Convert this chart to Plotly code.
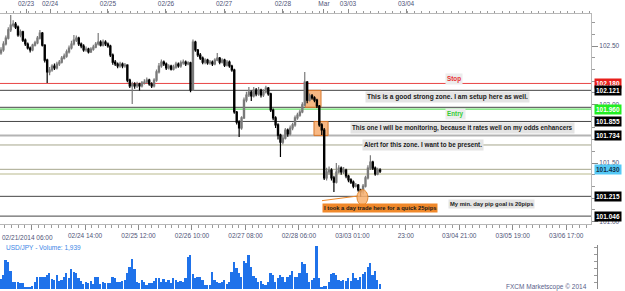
import plotly.graph_objects as go

# ---------------- data (hourly USD/JPY candles) ----------------
opens = [102.440,102.466,102.517,102.568,102.637,102.679,102.688,102.662,102.594,102.620,
         102.551,102.517,102.483,102.466,102.508,102.526,102.568,102.611,102.508,102.380,
         102.278,102.295,102.329,102.312,102.346,102.363,102.397,102.414,102.449,102.483,
         102.517,102.551,102.568,102.517,102.500,102.466,102.474,102.449,102.474,102.491,
         102.517,102.534,102.508,102.534,102.517,102.500,102.423,102.363,102.346,102.329,
         102.346,102.329,102.337,102.209,102.158,102.175,102.158,102.175,102.158,102.184,
         102.192,102.209,102.175,102.158,102.209,102.278,102.329,102.363,102.346,102.312,
         102.329,102.303,102.320,102.346,102.329,102.355,102.363,102.346,102.355,102.124,
         102.534,102.466,102.423,102.397,102.363,102.380,102.355,102.363,102.346,102.380,
         102.397,102.363,102.380,102.337,102.363,102.329,102.295,101.936,101.850,101.799,
         101.885,102.038,102.081,102.107,102.073,102.124,102.090,102.124,102.081,102.107,
         102.141,102.090,101.953,101.885,101.825,101.739,101.679,101.713,101.782,101.748,
         101.799,101.825,101.885,101.910,101.936,101.996,102.192,102.038,102.073,102.056,
         102.038,101.987,101.825,101.782,101.372,101.423,101.440,101.372,101.337,101.423,
         101.457,101.423,101.440,101.389,101.355,101.337,101.303,101.312,101.269,101.252,
         101.303,101.372,101.457,101.508,101.457,101.406,101.440]
highs = [102.490,102.540,102.590,102.660,102.765,102.720,102.705,102.675,102.640,102.630,
         102.565,102.530,102.495,102.520,102.545,102.585,102.637,102.620,102.515,102.390,
         102.320,102.345,102.350,102.365,102.380,102.415,102.435,102.470,102.505,102.545,
         102.594,102.590,102.580,102.530,102.515,102.495,102.485,102.490,102.510,102.535,
         102.611,102.550,102.555,102.550,102.530,102.510,102.435,102.380,102.360,102.365,
         102.360,102.355,102.345,102.220,102.195,102.190,102.195,102.185,102.200,102.215,
         102.230,102.220,102.190,102.225,102.300,102.355,102.385,102.375,102.360,102.345,
         102.340,102.340,102.365,102.360,102.375,102.385,102.375,102.370,102.365,102.555,
         102.545,102.475,102.440,102.410,102.395,102.390,102.380,102.375,102.395,102.440,
         102.405,102.395,102.390,102.380,102.375,102.340,102.305,101.945,101.865,101.900,
         102.060,102.110,102.150,102.120,102.150,102.140,102.150,102.135,102.130,102.160,
         102.150,102.100,101.965,101.900,101.840,101.750,101.735,101.800,101.795,101.820,
         101.845,101.905,101.930,101.955,102.020,102.278,102.200,102.095,102.090,102.070,
         102.050,101.995,101.840,101.800,101.460,101.470,101.455,101.390,101.500,101.480,
         101.470,101.465,101.450,101.400,101.370,101.350,101.330,101.320,101.280,101.320,
         101.390,101.480,101.567,101.520,101.470,101.460,101.455]
lows = [102.425,102.450,102.505,102.555,102.620,102.660,102.645,102.580,102.575,102.535,
        102.500,102.470,102.445,102.455,102.495,102.515,102.555,102.495,102.360,102.184,
        102.250,102.280,102.295,102.300,102.330,102.350,102.385,102.400,102.435,102.470,
        102.505,102.535,102.500,102.480,102.450,102.450,102.435,102.440,102.460,102.480,
        102.505,102.495,102.495,102.500,102.485,102.405,102.340,102.330,102.310,102.315,
        102.310,102.315,102.190,102.140,102.004,102.135,102.140,102.120,102.145,102.170,
        102.180,102.160,102.140,102.145,102.195,102.265,102.315,102.330,102.295,102.300,
        102.290,102.290,102.305,102.315,102.315,102.340,102.330,102.335,102.105,102.115,
        102.450,102.405,102.380,102.345,102.345,102.340,102.340,102.330,102.335,102.370,
        102.345,102.350,102.320,102.325,102.315,102.280,101.920,101.830,101.722,101.785,
        101.875,102.020,102.065,102.030,102.060,102.070,102.075,102.060,102.065,102.095,
        102.075,101.935,101.865,101.800,101.700,101.551,101.660,101.700,101.725,101.735,
        101.780,101.810,101.870,101.895,101.925,101.985,102.010,102.025,102.040,102.020,
        101.970,101.810,101.740,101.355,101.350,101.400,101.350,101.252,101.325,101.410,
        101.400,101.405,101.370,101.335,101.320,101.285,101.290,101.255,101.209,101.230,
        101.290,101.360,101.440,101.440,101.390,101.395,101.415]
closes = [102.466,102.517,102.568,102.637,102.679,102.688,102.662,102.594,102.620,102.551,
          102.517,102.483,102.466,102.508,102.526,102.568,102.611,102.508,102.380,102.278,
          102.295,102.329,102.312,102.346,102.363,102.397,102.414,102.449,102.483,102.517,
          102.551,102.568,102.517,102.500,102.466,102.474,102.449,102.474,102.491,102.517,
          102.534,102.508,102.534,102.517,102.500,102.423,102.363,102.346,102.329,102.346,
          102.329,102.337,102.209,102.158,102.175,102.158,102.175,102.158,102.184,102.192,
          102.209,102.175,102.158,102.209,102.278,102.329,102.363,102.346,102.312,102.329,
          102.303,102.320,102.346,102.329,102.355,102.363,102.346,102.355,102.124,102.534,
          102.466,102.423,102.397,102.363,102.380,102.355,102.363,102.346,102.380,102.397,
          102.363,102.380,102.337,102.363,102.329,102.295,101.936,101.850,101.799,101.885,
          102.038,102.081,102.107,102.073,102.124,102.090,102.124,102.081,102.107,102.141,
          102.090,101.953,101.885,101.825,101.739,101.679,101.713,101.782,101.748,101.799,
          101.825,101.885,101.910,101.936,101.996,102.192,102.038,102.073,102.056,102.038,
          101.987,101.825,101.782,101.372,101.423,101.440,101.372,101.337,101.423,101.457,
          101.423,101.440,101.389,101.355,101.337,101.303,101.312,101.269,101.252,101.303,
          101.372,101.457,101.508,101.457,101.406,101.440,101.430]
volumes = [4000,5600,11600,10800,7200,2800,2800,2800,2400,2400,
           800,800,800,1200,2800,4800,4800,4800,4800,5600,
           6400,4000,3600,5600,3200,3600,4800,6400,4400,8000,
           6800,6400,4400,3200,2000,2800,2400,3200,2000,4800,
           4800,2000,2800,2400,2400,2400,4800,4400,2800,2800,
           3200,3600,6400,8800,12000,8000,2800,2400,3600,2800,
           1600,2400,2400,3200,4400,4400,2800,4000,2800,3600,
           2400,4400,3600,2800,3200,2800,4400,12800,13600,6000,
           4400,4800,4800,3600,1600,1600,1600,6800,3600,2800,
           2400,2800,3600,2000,2800,6800,10800,8400,6400,4800,
           11200,10400,13600,8800,5200,4400,2800,3200,2000,1600,
           2800,6400,5600,2800,4400,5600,4800,2800,4800,5600,
           7200,4800,4800,6400,10800,10000,6400,2800,3600,4400,
           17200,4400,800,1200,1200,2800,6000,6400,5600,3600,
           3200,3600,3200,4400,3200,6400,4400,3600,4800,6000,
           6800,8800,10400,5600,7200,3600,1939]
bar_index = list(range(len(closes)))

top_tick_pos = [10.3, 20.2, 44.0, 67.9, 91.8, 116.0, 132.9, 142.8, 166.7]
top_tick_text = ["02/23", "02/24", "02/25", "02/26", "02/27", "02/28", "Mar", "03/03", "03/04"]
bottom_tick_pos = [12.6, 34.6, 56.6, 78.6, 100.6, 122.6, 144.6, 166.6, 188.6, 210.6, 232.6]
bottom_tick_text = ["02/21/2014 06:00", "02/24 14:00", "02/25 12:00", "02/26 10:00", "02/27 08:00",
                    "02/28 06:00", "03/03 01:00", "23:00", "03/04 21:00", "03/05 19:00", "03/06 17:00"]
price_ticks = [101.0, 101.5, 102.0, 102.5]
price_tick_text = ["101.00", "101.50", "102.00", "102.50"]

level_prices = [102.180, 102.121, 101.976, 101.960, 101.855, 101.734, 101.654, 101.446, 101.406, 101.215, 101.046]
level_colors = ["#e84545", "#454545", "#454545", "#66e066", "#454545", "#b4b4b4", "#a6a68c", "#a6a68c", "#dcdcc6", "#454545", "#454545"]
level_widths = [1, 1, 1, 1.2, 1, 2, 1, 1, 2, 1, 1]

tag_prices = [102.180, 102.121, 101.960, 101.855, 101.734, 101.445, 101.215, 101.046]
tag_texts = ["102.180", "102.121", "101.960", "101.855", "101.734", "101.430", "101.215", "101.046"]
tag_bg = ["#e8201c", "#000000", "#22ee22", "#000000", "#000000", "#55c8f5", "#000000", "#000000"]
tag_fg = ["#ffffff", "#ffffff", "#ffffff", "#ffffff", "#ffffff", "#10304a", "#ffffff", "#ffffff"]

FONT = "Liberation Sans"
AXIS_TXT = "#4f5478"

fig = go.Figure()
fig.add_trace(go.Candlestick(
    x=bar_index, open=opens, high=highs, low=lows, close=closes,
    xaxis="x", yaxis="y", whiskerwidth=0,
    increasing=dict(line=dict(color="#7a7a7a", width=1.2), fillcolor="#ffffff"),
    decreasing=dict(line=dict(color="#000000", width=1.2), fillcolor="#000000"),
    showlegend=False, hoverinfo="skip"))
fig.add_trace(go.Scatter(
    x=top_tick_pos, y=[102.805] * len(top_tick_pos), xaxis="x2", yaxis="y",
    mode="markers", marker=dict(symbol="triangle-down", size=5, color="#f4a020"),
    cliponaxis=False, showlegend=False, hoverinfo="skip"))
fig.add_trace(go.Bar(
    x=bar_index, y=volumes, xaxis="x3", yaxis="y3", width=0.72,
    marker=dict(color="#1f72ea", line=dict(width=0)), showlegend=False, hoverinfo="skip"))

shapes = []
for p, c, w in zip(level_prices, level_colors, level_widths):
    shapes.append(dict(type="line", xref="x domain", yref="y", x0=0, x1=1, y0=p, y1=p,
                       line=dict(color=c, width=w), layer="below"))
# zone boxes
shapes.append(dict(type="rect", xref="x", yref="y", x0=125.2, x1=131.7, y0=101.976, y1=102.121,
                   fillcolor="rgba(245,160,90,0.75)", line=dict(color="#d9782c", width=1), layer="below"))
shapes.append(dict(type="rect", xref="x", yref="y", x0=128.8, x1=134.6, y0=101.734, y1=101.855,
                   fillcolor="rgba(245,160,90,0.75)", line=dict(color="#d9782c", width=1), layer="below"))
# trade circle and pointer
shapes.append(dict(type="line", xref="x", yref="y", x0=132.1, y0=101.178, x1=146.9, y1=101.218,
                   line=dict(color="#f08a2a", width=1)))
shapes.append(dict(type="circle", xref="x", yref="y", x0=146.5, x1=151.0, y0=101.141, y1=101.272,
                   fillcolor="rgba(248,176,110,0.85)", line=dict(color="#e58a30", width=1)))

ann = []
def note(text, x, y, color="#1a1a1a", bg="#e4e4e4", size=6.3, bold=True):
    ann.append(dict(text=("<b>%s</b>" % text) if bold else text, x=x, y=y, xref="x", yref="y",
                    xanchor="left", yanchor="middle", showarrow=False,
                    font=dict(family=FONT, size=size, color=color), bgcolor=bg, borderpad=1))

note("Stop", 182.7, 102.218, color="#e83030", bg="#ececec")
note("This is a good strong zone. I am setup here as well.", 149.8, 102.060, size=6.6)
note("Entry", 182.7, 101.919, color="#33cc33", bg="#ececec")
note("This one I will be monitoring, because it rates well on my odds enhancers", 143.6, 101.797)
note("Alert for this zone. I want to be present.", 148.6, 101.654)
note("I took a day trade here for a quick 25pips", 132.1, 101.115, bg="#f0882a", size=5.8)
note("My min. day pip goal is 20pips", 184.0, 101.149, size=5.8)

for p, t, bg, fg in zip(tag_prices, tag_texts, tag_bg, tag_fg):
    ann.append(dict(text="<b>%s</b>" % t, x=594 / 597, y=p, xref="paper", yref="y",
                    xanchor="left", yanchor="middle", showarrow=False,
                    font=dict(family=FONT, size=6.5, color=fg), bgcolor=bg, borderpad=1))

ann.append(dict(text=bottom_tick_text[0], x=0, y=(291 - 237) / 291, xref="paper", yref="paper",
                xanchor="left", yanchor="middle", showarrow=False,
                font=dict(family=FONT, size=6.5, color=AXIS_TXT)))
ann.append(dict(text="USD/JPY - Volume: 1,939", x=4 / 597, y=(291 - 247) / 291, xref="paper", yref="paper",
                xanchor="left", yanchor="middle", showarrow=False,
                font=dict(family=FONT, size=6.5, color="#3a86e6")))
ann.append(dict(text="FXCM Marketscope © 2014", x=589 / 597, y=(291 - 287) / 291, xref="paper", yref="paper",
                xanchor="right", yanchor="middle", showarrow=False,
                font=dict(family=FONT, size=6.5, color="#59608a")))

tickfont = dict(family=FONT, size=6.5, color=AXIS_TXT)
fig.update_layout(
    width=625, height=291, margin=dict(l=0, r=28, t=0, b=0),
    paper_bgcolor="#ffffff", plot_bgcolor="#ffffff",
    shapes=shapes, annotations=ann, bargap=0,
    xaxis=dict(domain=[0, 591 / 597], range=[-0.41, 242.8], anchor="y",
               showline=True, linecolor="#b8b8b8", ticks="outside", ticklen=5, tickcolor="#8a8a8a",
               tickvals=bottom_tick_pos, ticktext=[""] + bottom_tick_text[1:], tickfont=tickfont,
               minor=dict(tick0=12.6, dtick=2.75, ticks="outside", ticklen=3, tickcolor="#9a9a9a"),
               showgrid=False, zeroline=False, rangeslider=dict(visible=False)),
    xaxis2=dict(overlaying="x", side="top", anchor="y", range=[-0.41, 242.8],
                showline=True, linecolor="#b8b8b8", ticks="outside", ticklen=4, tickcolor="#8a8a8a",
                tickvals=top_tick_pos, ticktext=top_tick_text, tickfont=tickfont,
                minor=dict(tick0=20.2, dtick=3, ticks="outside", ticklen=2, tickcolor="#9a9a9a"),
                showgrid=False, zeroline=False),
    yaxis=dict(domain=[(291 - 224) / 291, (291 - 14) / 291], range=[100.9786, 102.7735], anchor="x",
               side="right", showline=True, linecolor="#b8b8b8", ticks="outside", ticklen=6,
               tickcolor="#8a8a8a", tickvals=price_ticks, ticktext=price_tick_text, tickfont=tickfont,
               minor=dict(dtick=0.1, ticks="outside", ticklen=3, tickcolor="#9a9a9a"),
               showgrid=False, zeroline=False),
    xaxis3=dict(domain=[0, 1], range=[-0.41, 245.3], anchor="y3", showline=False,
                showticklabels=False, ticks="", showgrid=False, zeroline=False),
    yaxis3=dict(domain=[(291 - 289) / 291, (291 - 245) / 291], range=[0, 17600], anchor="x3",
                side="right", showline=True, linecolor="#8a8a8a", ticks="inside", ticklen=6,
                tickcolor="#8a8a8a", tickvals=[0], ticktext=["0"], tickfont=tickfont,
                minor=dict(dtick=2750, ticks="inside", ticklen=3, tickcolor="#9a9a9a"),
                showgrid=False, zeroline=False),
)

fig.write_html("out.html")
